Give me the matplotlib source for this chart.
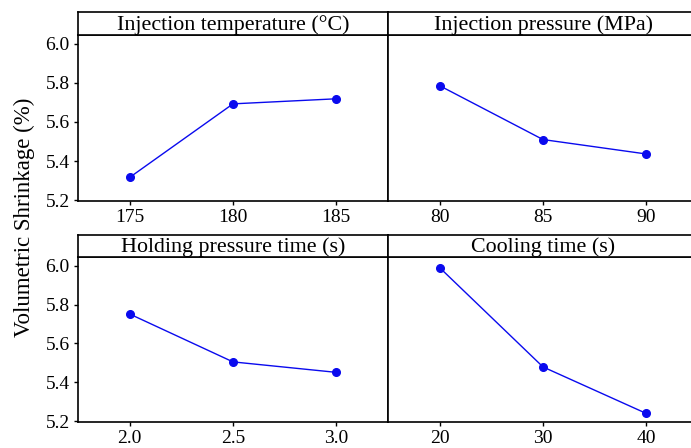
import matplotlib.pyplot as plt

plt.rcParams['font.family'] = ['Liberation Serif', 'DejaVu Serif']

# panel data
titles = ['Injection temperature (°C)', 'Injection pressure (MPa)',
          'Holding pressure time (s)', 'Cooling time (s)']
levels = [[175, 180, 185], [80, 85, 90], [2.0, 2.5, 3.0], [20, 30, 40]]
tick_labels = [['175', '180', '185'], ['80', '85', '90'],
               ['2.0', '2.5', '3.0'], ['20', '30', '40']]
shrinkage = [[5.316, 5.693, 5.719],
             [5.786, 5.510, 5.436],
             [5.752, 5.505, 5.451],
             [5.991, 5.479, 5.239]]
y_ticks = [5.2, 5.4, 5.6, 5.8, 6.0]

W, H = 691, 448
fig = plt.figure(figsize=(W / 100, H / 100), dpi=100)

# pixel boxes (left, top) for each panel: plot area + header strip
col_x = [78, 388]
pw = 310
rows = [(12, 35, 201), (235, 257, 422)]  # header top, plot top, plot bottom

for i in range(4):
    r, c = divmod(i, 2)
    ht, pt, pb = rows[r]
    x0 = col_x[c]
    ax = fig.add_axes([x0 / W, 1 - pb / H, pw / W, (pb - pt) / H])
    hd = fig.add_axes([x0 / W, 1 - pt / H, pw / W, (pt - ht) / H])

    xs = levels[i]
    step = xs[1] - xs[0]
    ax.plot(xs, shrinkage[i], color='#0a0aee', lw=1.0, marker='o', ms=5.5)
    ax.set_xlim(xs[0] - step / 2, xs[-1] + step / 2)
    ax.set_ylim(5.195, 6.046)
    ax.set_xticks(xs)
    ax.set_xticklabels(tick_labels[i])
    ax.set_yticks(y_ticks)
    ax.tick_params(labelsize=14, length=3, width=1, pad=3, colors='black')
    if c == 1:
        ax.tick_params(axis='y', left=False, labelleft=False)
    else:
        ax.set_yticklabels(['%.1f' % v for v in y_ticks])
    for s in ax.spines.values():
        s.set_linewidth(1.2)

    hd.set_xticks([])
    hd.set_yticks([])
    for s in hd.spines.values():
        s.set_linewidth(1.2)
    hd.text(0.5, 0.45, titles[i], ha='center', va='center', fontsize=15.8,
            transform=hd.transAxes)

fig.text(24 / W, 1 - 217 / H, 'Volumetric Shrinkage (%)', rotation=90,
         ha='center', va='center', fontsize=16.5)

plt.savefig('out.png', dpi=100)
